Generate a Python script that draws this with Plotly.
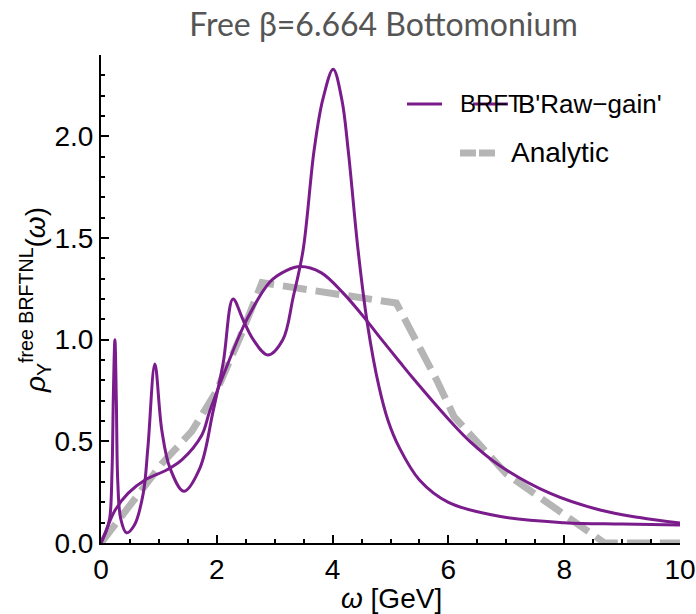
import plotly.graph_objects as go

# ---- data ----
w_brft = [0, 0.08, 0.15, 0.19, 0.215, 0.24, 0.265, 0.29, 0.34, 0.44, 0.58, 0.73, 0.81, 0.93,
          1.05, 1.19, 1.43, 1.71, 1.93, 2.11, 2.28, 2.45, 2.63, 2.88, 3.14, 3.32, 3.49, 3.68,
          3.83, 4.01, 4.16, 4.27, 4.44, 4.60, 4.80, 4.96, 5.15, 5.5, 6.0, 6.9, 8.0, 9.0, 10.0]
rho_brft = [0, 0.05, 0.12, 0.35, 0.75, 1.0, 0.7, 0.3, 0.12, 0.05, 0.09, 0.245, 0.47, 0.88,
            0.555, 0.37, 0.255, 0.37, 0.64, 0.885, 1.20, 1.10, 1.0, 0.925, 1.0, 1.21, 1.44, 1.93,
            2.18, 2.33, 2.18, 1.93, 1.44, 1.08, 0.77, 0.60, 0.47, 0.31, 0.20, 0.13, 0.10, 0.093, 0.088]

w_raw = [0, 0.1, 0.24, 0.47, 0.76, 1.14, 1.40, 1.74, 1.88, 2.23, 2.52, 2.92, 3.2, 3.44, 3.8,
         4.18, 4.6, 4.82, 5.16, 5.39, 6.03, 6.37, 6.89, 7.75, 8.62, 9.3, 10.0]
rho_raw = [0, 0.07, 0.16, 0.245, 0.31, 0.36, 0.41, 0.53, 0.65, 0.91, 1.10, 1.285, 1.34, 1.36, 1.33,
           1.23, 1.09, 1.01, 0.89, 0.81, 0.60, 0.50, 0.38, 0.245, 0.162, 0.125, 0.098]

w_an = [0, 0.47, 1.05, 1.57, 2.0, 2.4, 2.78, 5.1, 5.5, 5.8, 6.1, 6.5, 7.0, 7.5, 8.0, 8.3, 8.7, 10.0]
rho_an = [0, 0.18, 0.39, 0.55, 0.75, 1.01, 1.28, 1.18, 0.97, 0.80, 0.62, 0.49, 0.34, 0.24, 0.14,
          0.07, 0.0, 0.0]

x_ticks = [0, 2, 4, 6, 8, 10]
y_ticks = [0.0, 0.5, 1.0, 1.5, 2.0]
legend_names = ["BRFT", "B'Raw\u2212gain'", "Analytic"]

PURPLE = "#7a1c8b"
GRAY = "#b5b5b5"
TICKFONT = dict(family="Liberation Sans, Arial, sans-serif", size=28, color="black")

fig = go.Figure()
fig.add_trace(go.Scatter(x=w_an, y=rho_an, mode="lines", name="Analytic",
                         line=dict(color=GRAY, width=7, dash="24px,9px"), showlegend=False))
fig.add_trace(go.Scatter(x=w_brft, y=rho_brft, mode="lines", name="BRFT",
                         line=dict(color=PURPLE, width=3, shape="spline", smoothing=1.0),
                         showlegend=False))
fig.add_trace(go.Scatter(x=w_raw, y=rho_raw, mode="lines", name="'Raw-gain'",
                         line=dict(color=PURPLE, width=3, shape="spline", smoothing=1.0),
                         showlegend=False))

axis_common = dict(showline=True, linecolor="black", linewidth=2, showgrid=False, zeroline=False,
                   ticks="inside", ticklen=8, tickwidth=1.5, tickcolor="black", tickfont=TICKFONT,
                   automargin=False)

fig.update_xaxes(range=[0, 10], tickvals=x_ticks, ticktext=[str(v) for v in x_ticks],
                 minor=dict(dtick=0.5, ticks="inside", ticklen=4, tickwidth=1.5, tickcolor="black"),
                 **axis_common)
fig.update_yaxes(range=[0, 2.4], tickvals=y_ticks, ticktext=[f"{v:.1f}" for v in y_ticks],
                 minor=dict(dtick=0.1, ticks="inside", ticklen=4, tickwidth=1.5, tickcolor="black"),
                 **axis_common)

# manual legend (overlapping entries as in the reference)
def px_x(p):
    return (p - 101) / 579.0

def px_y(p):
    return (543 - p) / 488.0

shapes = [
    dict(type="line", xref="paper", yref="paper", x0=px_x(407), x1=px_x(442), y0=px_y(104), y1=px_y(104),
         line=dict(color=PURPLE, width=3)),
    dict(type="line", xref="paper", yref="paper", x0=px_x(473), x1=px_x(508), y0=px_y(104), y1=px_y(104),
         line=dict(color=PURPLE, width=3)),
    dict(type="line", xref="paper", yref="paper", x0=px_x(460), x1=px_x(496), y0=px_y(153), y1=px_y(153),
         line=dict(color=GRAY, width=7, dash="16px,3px")),
]
legend_font = dict(family="Liberation Sans, Arial, sans-serif", size=28, color="black")
annotations = [
    dict(text=legend_names[0], xref="paper", yref="paper", x=px_x(458), y=px_y(104),
         xanchor="left", yanchor="middle", showarrow=False,
         font=dict(family="Liberation Sans, Arial, sans-serif", size=24, color="black")),
    dict(text=legend_names[1], xref="paper", yref="paper", x=px_x(516), y=px_y(104),
         xanchor="left", yanchor="middle", showarrow=False,
         font=dict(family="Liberation Sans, Arial, sans-serif", size=26, color="black")),
    dict(text=legend_names[2], xref="paper", yref="paper", x=px_x(509), y=px_y(153),
         xanchor="left", yanchor="middle", showarrow=False, font=legend_font),
    # axis titles
    dict(text="<i>ω</i> [GeV]", xref="paper", yref="paper", x=px_x(391), y=px_y(598),
         xanchor="center", yanchor="middle", showarrow=False, font=legend_font),
    dict(text="<i>ρ</i><sub>Υ</sub><sup>free BRFTNL</sup>(<i>ω</i>)", xref="paper", yref="paper",
         x=px_x(35), y=px_y(300), xanchor="center", yanchor="middle", textangle=-90,
         showarrow=False, font=legend_font),
]

fig.update_layout(
    width=696, height=614,
    margin=dict(l=101, r=16, t=55, b=71, autoexpand=False),
    paper_bgcolor="white", plot_bgcolor="white",
    title=dict(text="Free β=6.664 Bottomonium", x=0.551, xanchor="center", y=1 - 25 / 614,
               yanchor="middle", font=dict(family="Lato, sans-serif", size=32, color="#555555")),
    shapes=shapes, annotations=annotations, showlegend=False,
)

fig.write_html("out.html")
